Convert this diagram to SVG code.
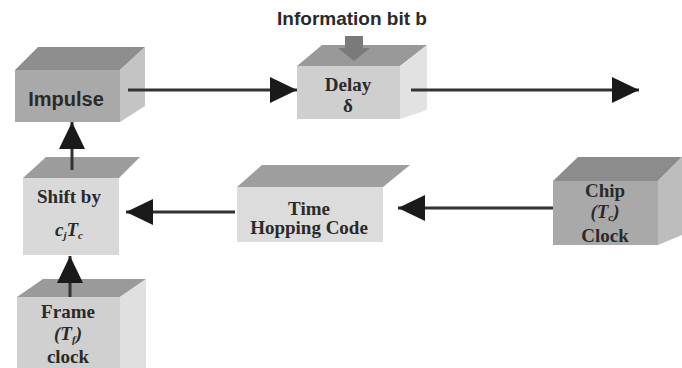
<svg xmlns="http://www.w3.org/2000/svg" width="682" height="368" viewBox="0 0 682 368">
<defs>
<marker id="ah" markerWidth="28" markerHeight="26" refX="27" refY="13" orient="auto" markerUnits="userSpaceOnUse">
<path d="M0,0 L27,13 L0,26 Z" fill="#1a1a1a"/>
</marker>
</defs>
<style>
.lbl{font-family:"Liberation Serif","Times New Roman",serif;font-weight:bold;font-size:19px;fill:#2a2a2a;text-anchor:middle}
.it{font-style:italic}
.sub{font-size:11px}
.sans{font-family:"Liberation Sans",Arial,sans-serif;font-weight:bold;fill:#2a2a2a;text-anchor:middle}
.conn{stroke:#333;stroke-width:3;fill:none;marker-end:url(#ah)}
</style>
<rect width="682" height="368" fill="#ffffff"/>
<text class="sans" x="352" y="25" font-size="19">Information bit b</text>

<g id="impulse">
<polygon points="15,70 38,47 145,47 120,70" fill="#8e8e8e"/>
<polygon points="120,70 145,47 145,106 120,122" fill="#c4c4c4"/>
<rect x="15" y="70" width="105" height="52" fill="#a9a9a9"/>
<text class="sans" x="66" y="106" font-size="20">Impulse</text>
</g>

<g id="delay">
<polygon points="297,66 322,45 427,45 400,66" fill="#999999"/>
<polygon points="400,66 427,45 427,110 400,119" fill="#e2e2e2"/>
<rect x="297" y="66" width="103" height="53" fill="#cfcfcf"/>
<polygon points="345,36 363,36 363,48 370,48 354,61 338,48 345,48" fill="#7a7a7a"/>
<text class="lbl" x="348" y="91">Delay</text>
<text class="lbl" x="348" y="112">δ</text>
</g>

<g id="shift">
<polygon points="23,178 46,157 140,157 119,178" fill="#9c9c9c"/>
<rect x="23" y="178" width="96" height="77" fill="#d9d9d9"/>
<text class="lbl" x="69" y="203">Shift by</text>
<text class="lbl it" x="69" y="236">c<tspan class="sub" dy="3">j</tspan><tspan dy="-3">T</tspan><tspan class="sub" dy="3">c</tspan></text>
</g>

<g id="timehopping">
<polygon points="237,187 262,165 410,165 383,187" fill="#9e9e9e"/>
<rect x="237" y="187" width="146" height="55" fill="#dcdcdc"/>
<text class="lbl" x="309" y="215">Time</text>
<text class="lbl" x="309" y="234">Hopping Code</text>
</g>

<g id="chip">
<polygon points="553,181 578,157 682,157 658,181" fill="#8c8c8c"/>
<polygon points="658,181 682,157 682,235 658,245" fill="#bdbdbd"/>
<rect x="553" y="181" width="105" height="64" fill="#a9a9a9"/>
<text class="lbl" x="605" y="197">Chip</text>
<text class="lbl it" x="605" y="218">(T<tspan class="sub" dy="3">c</tspan><tspan dy="-3">)</tspan></text>
<text class="lbl" x="605" y="242">Clock</text>
</g>

<g id="frame">
<polygon points="17,297 43,279 146,279 120,297" fill="#9a9a9a"/>
<polygon points="120,297 146,279 146,368 120,368" fill="#e0e0e0"/>
<rect x="17" y="297" width="103" height="71" fill="#d0d0d0"/>
<text class="lbl" x="68" y="318">Frame</text>
<text class="lbl it" x="68" y="340">(T<tspan class="sub" dy="3">f</tspan><tspan dy="-3">)</tspan></text>
<text class="lbl" x="68" y="363">clock</text>
</g>

<g id="connectors">
<line class="conn" x1="128" y1="90" x2="297" y2="90"/>
<line class="conn" x1="411" y1="90" x2="639" y2="90"/>
<line class="conn" x1="72" y1="170" x2="72" y2="122"/>
<line class="conn" x1="235" y1="212" x2="126" y2="212"/>
<line class="conn" x1="553" y1="208" x2="398" y2="208"/>
<line class="conn" x1="70" y1="297" x2="70" y2="256"/>
</g>
</svg>
